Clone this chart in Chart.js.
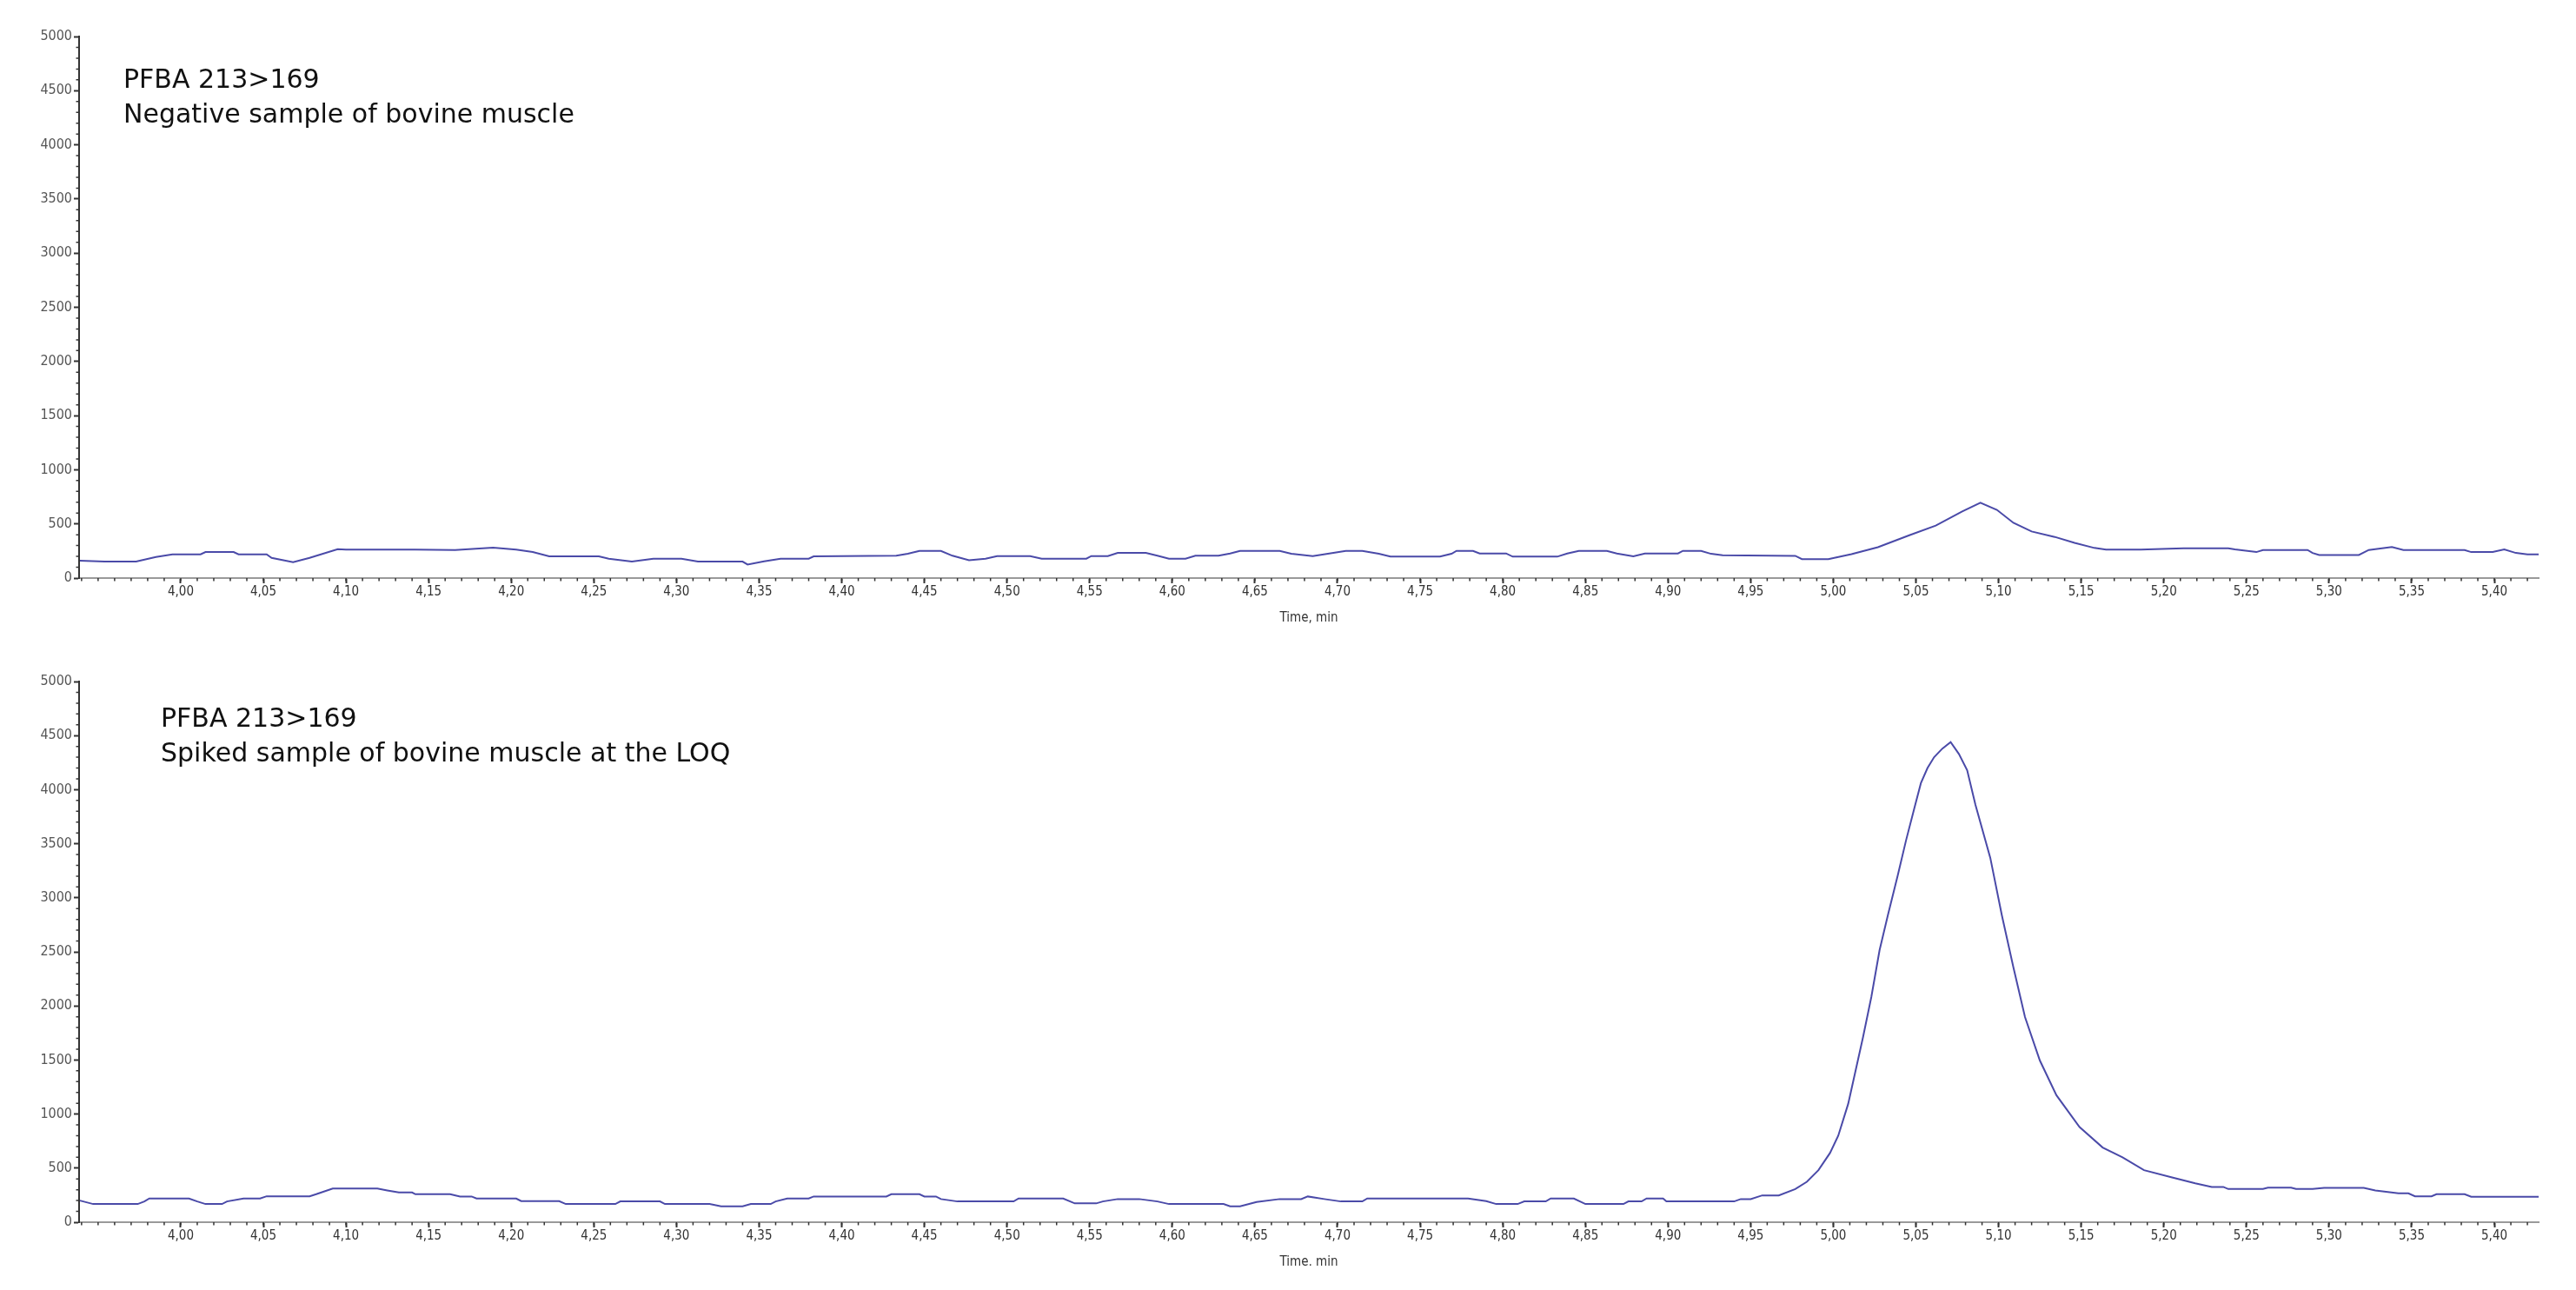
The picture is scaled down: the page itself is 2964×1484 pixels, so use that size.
<!DOCTYPE html>
<html>
<head>
<meta charset="utf-8">
<title>PFBA 213>169 chromatograms</title>
<script src="https://cdn.jsdelivr.net/npm/chart.js@4.4.1/dist/chart.umd.min.js"></script>
<style>
  html, body { margin: 0; padding: 0; background: #ffffff; }
  body { width: 2964px; height: 1484px; position: relative; overflow: hidden; }
  canvas { position: absolute; left: 0; }
  .note {
    position: absolute;
    font-family: "DejaVu Sans", Verdana, sans-serif;
    font-size: 30px;
    line-height: 40px;
    color: #111111;
    white-space: nowrap;
  }
</style>
</head>
<body>
<canvas id="chart-negative" width="2964" height="740" style="top:0"></canvas>
<canvas id="chart-spiked" width="2964" height="714" style="top:742px"></canvas>

<div class="note" style="left:142px; top:71px">PFBA 213&gt;169<br>Negative sample of bovine muscle</div>
<div class="note" style="left:185px; top:806px">PFBA 213&gt;169<br>Spiked sample of bovine muscle at the LOQ</div>

<script>
// Chromatogram data (time in min, intensity in cps)

const xTicks = [4.00, 4.05, 4.10, 4.15, 4.20, 4.25, 4.30, 4.35, 4.40, 4.45, 4.50,
  4.55, 4.60, 4.65, 4.70, 4.75, 4.80, 4.85, 4.90, 4.95, 5.00, 5.05, 5.10,
  5.15, 5.20, 5.25, 5.30, 5.35, 5.40];
const yTicks = [0, 500, 1000, 1500, 2000, 2500, 3000, 3500, 4000, 4500, 5000];

// Negative sample of bovine muscle
const negTimes = [3.939, 3.954, 3.973, 3.985, 3.995, 4.012, 4.015, 4.032, 4.035, 4.052,
  4.055, 4.068, 4.078, 4.095, 4.100, 4.142, 4.166, 4.189, 4.203, 4.213,
  4.223, 4.253, 4.259, 4.273, 4.286, 4.303, 4.313, 4.340, 4.343, 4.353,
  4.363, 4.380, 4.383, 4.433, 4.440, 4.447, 4.460, 4.467, 4.477, 4.487,
  4.494, 4.514, 4.521, 4.534, 4.548, 4.551, 4.561, 4.567, 4.584, 4.591,
  4.598, 4.608, 4.614, 4.628, 4.635, 4.641, 4.665, 4.672, 4.685, 4.695,
  4.705, 4.715, 4.725, 4.732, 4.762, 4.769, 4.772, 4.782, 4.786, 4.802,
  4.806, 4.833, 4.839, 4.846, 4.863, 4.869, 4.879, 4.886, 4.906, 4.909,
  4.920, 4.926, 4.933, 4.977, 4.981, 4.997, 5.000, 5.011, 5.027, 5.046,
  5.062, 5.078, 5.089, 5.099, 5.109, 5.120, 5.134, 5.146, 5.158, 5.165,
  5.186, 5.203, 5.212, 5.239, 5.243, 5.256, 5.260, 5.287, 5.290, 5.294,
  5.318, 5.324, 5.338, 5.345, 5.382, 5.386, 5.399, 5.406, 5.413, 5.420, 5.427];
const negValues = [160, 152, 152, 195, 219, 219, 240, 240, 219, 219,
  187, 147, 187, 267, 262, 262, 259, 280, 262, 240,
  200, 200, 179, 152, 179, 179, 152, 152, 125, 155,
  179, 179, 200, 206, 224, 251, 251, 206, 165, 179,
  203, 203, 179, 179, 179, 203, 203, 232, 232, 206,
  179, 179, 206, 206, 227, 251, 251, 224, 203, 227,
  251, 251, 224, 198, 198, 224, 251, 251, 227, 227,
  198, 198, 227, 251, 251, 227, 200, 227, 227, 251,
  251, 224, 210, 205, 175, 175, 185, 220, 285, 395,
  485, 615, 695, 630, 510, 430, 380, 325, 278, 262,
  262, 270, 275, 275, 264, 240, 259, 259, 232, 213,
  213, 259, 286, 259, 259, 240, 240, 264, 232, 219, 219];

// Spiked sample of bovine muscle at the LOQ
const spikeTimes = [3.939, 3.947, 3.974, 3.978, 3.981, 4.005, 4.010, 4.015, 4.025, 4.028,
  4.038, 4.048, 4.052, 4.078, 4.082, 4.092, 4.119, 4.125, 4.132, 4.140,
  4.142, 4.163, 4.169, 4.176, 4.179, 4.203, 4.206, 4.229, 4.233, 4.263,
  4.266, 4.290, 4.293, 4.320, 4.327, 4.340, 4.345, 4.357, 4.360, 4.367,
  4.380, 4.383, 4.427, 4.430, 4.447, 4.450, 4.457, 4.460, 4.470, 4.504,
  4.507, 4.534, 4.541, 4.554, 4.558, 4.567, 4.580, 4.591, 4.598, 4.631,
  4.635, 4.641, 4.651, 4.665, 4.678, 4.682, 4.692, 4.702, 4.715, 4.718,
  4.779, 4.790, 4.796, 4.809, 4.813, 4.826, 4.829, 4.843, 4.850, 4.873,
  4.876, 4.884, 4.887, 4.897, 4.899, 4.940, 4.944, 4.950, 4.957, 4.967,
  4.977, 4.984, 4.991, 4.998, 5.003, 5.009, 5.018, 5.023, 5.028, 5.033,
  5.039, 5.044, 5.049, 5.053, 5.057, 5.061, 5.066, 5.071, 5.076, 5.081,
  5.086, 5.095, 5.102, 5.109, 5.116, 5.125, 5.135, 5.149, 5.163, 5.175,
  5.188, 5.205, 5.219, 5.229, 5.236, 5.239, 5.260, 5.263, 5.277, 5.280,
  5.290, 5.297, 5.321, 5.328, 5.342, 5.348, 5.352, 5.362, 5.365, 5.382,
  5.386, 5.427];
const spikeValues = [200, 168, 168, 192, 219, 219, 192, 168, 168, 192,
  219, 219, 240, 240, 259, 312, 312, 294, 275, 275,
  259, 259, 238, 238, 219, 219, 195, 195, 168, 168,
  192, 192, 168, 168, 147, 147, 168, 168, 192, 219,
  219, 238, 238, 259, 259, 238, 238, 214, 192, 192,
  219, 219, 174, 174, 192, 214, 214, 192, 168, 168,
  147, 147, 187, 214, 214, 238, 214, 192, 192, 219,
  219, 195, 168, 168, 192, 192, 219, 219, 168, 168,
  192, 192, 219, 219, 192, 192, 214, 214, 248, 248,
  307, 374, 481, 640, 800, 1094, 1712, 2082, 2516, 2838,
  3208, 3530, 3827, 4060, 4200, 4300, 4380, 4440, 4330, 4180,
  3860, 3369, 2838, 2356, 1897, 1495, 1174, 880, 691, 600,
  481, 414, 360, 326, 326, 307, 307, 320, 320, 307,
  307, 318, 318, 294, 267, 267, 240, 240, 259, 259,
  235, 235];

const X_MIN = 3.9385;
const X_MAX = 5.4268;
const FONT = '"Liberation Sans Narrow", "DejaVu Sans Condensed", "Liberation Sans", sans-serif';
const LINE_COLOR = '#4a4aa8';

// small minor ticks every 0.01 min and every 100 cps
const minorTicks = {
  id: 'minorTicks',
  afterDraw(chart) {
    const { ctx, chartArea } = chart;
    const x = chart.scales.x;
    const y = chart.scales.y;
    ctx.save();
    ctx.strokeStyle = '#333333';
    ctx.lineWidth = 1.5;
    ctx.beginPath();
    for (let i = Math.ceil(X_MIN * 100); i <= Math.floor(X_MAX * 100); i++) {
      const px = x.getPixelForValue(i / 100);
      ctx.moveTo(px, chartArea.bottom);
      ctx.lineTo(px, chartArea.bottom + 3.5);
    }
    for (let v = 100; v < 5000; v += 100) {
      if (v % 500 === 0) continue;
      const py = y.getPixelForValue(v);
      ctx.moveTo(chartArea.left - 3.5, py);
      ctx.lineTo(chartArea.left, py);
    }
    ctx.stroke();
    ctx.restore();
  },
};

const Charts = {
  instances: {},

  build(id, times, values, axisHeight, titlePadBottom) {
    const ctx = document.getElementById(id);
    if (!ctx) return;

    this.instances[id] = new Chart(ctx, {
      type: 'line',
      data: {
        datasets: [{
          data: times.map((t, i) => ({ x: t, y: values[i] })),
          borderColor: LINE_COLOR,
          borderWidth: 2,
          pointRadius: 0,
          tension: 0,
          fill: false,
        }],
      },
      options: {
        responsive: false,
        animation: false,
        layout: { padding: { top: 42, right: 43, left: 0, bottom: 0 } },
        plugins: {
          legend: { display: false },
          tooltip: { enabled: false },
        },
        scales: {
          x: {
            type: 'linear',
            min: X_MIN,
            max: X_MAX,
            afterBuildTicks: (s) => { s.ticks = xTicks.map(v => ({ value: v })); },
            afterFit: (s) => { s.height = axisHeight; },
            ticks: {
              autoSkip: false,
              maxRotation: 0,
              padding: 1,
              color: '#333333',
              font: { family: FONT, size: 15 },
              callback: (v) => v.toFixed(2).replace('.', ','),
            },
            grid: { drawOnChartArea: false, tickLength: 6, tickColor: '#333333', tickWidth: 2 },
            border: { color: '#9a9a9a', width: 2 },
            title: {
              display: true,
              text: 'Time, min',
              color: '#333333',
              font: { family: FONT, size: 15 },
              padding: { top: 0, bottom: titlePadBottom },
            },
          },
          y: {
            min: 0,
            max: 5000,
            afterBuildTicks: (s) => { s.ticks = yTicks.map(v => ({ value: v })); },
            afterFit: (s) => { s.width = 91; },
            ticks: {
              padding: 2,
              color: '#555555',
              font: { family: FONT, size: 16 },
              callback: (v) => String(v),
            },
            grid: { drawOnChartArea: false, tickLength: 6, tickColor: '#333333', tickWidth: 2 },
            border: { color: '#333333', width: 2 },
          },
        },
      },
      plugins: [minorTicks],
    });
  },
};

Charts.build('chart-negative', negTimes, negValues, 75, 20);
Charts.build('chart-spiked', spikeTimes, spikeValues, 50, -5);
</script>
</body>
</html>
